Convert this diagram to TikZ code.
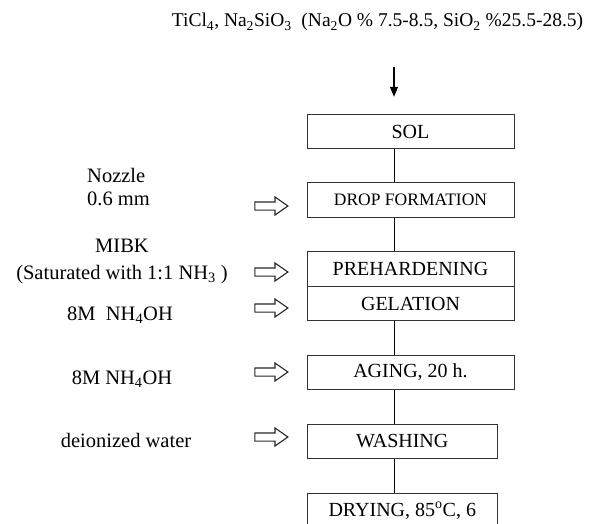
\documentclass[tikz,border=0pt]{standalone}
\usepackage{fontspec}
\setmainfont{Liberation Serif}
\usetikzlibrary{arrows.meta,shapes.arrows}

\tikzset{
  stepbox/.style={draw=black!80, line width=0.9pt, minimum height=34.5pt, inner sep=0pt, font=\fontsize{20}{24}\selectfont},
  feed/.style={single arrow, draw=black!85, line width=1.1pt, minimum height=33pt, minimum width=17pt,
    single arrow head extend=5pt, single arrow tip angle=70, inner sep=3.5pt},
  lbl/.style={font=\fontsize{20.5}{24}\selectfont, inner sep=0pt}
}

\begin{document}
\begin{tikzpicture}[x=1pt, y=-1pt]
	\useasboundingbox (0,0) rectangle (591,524);

	% starting materials
	\node[lbl, anchor=base, font=\fontsize{19.5}{24}\selectfont] (src) at (377.5,27)
		{TiCl\textsubscript{4}, Na\textsubscript{2}SiO\textsubscript{3}\ \ (Na\textsubscript{2}O \% 7.5-8.5, SiO\textsubscript{2} \%25.5-28.5)};
	\coordinate (spine) at (394,0);

	% process steps
	\node[stepbox, minimum width=207pt] (sol)   at (410.5,131.5) {SOL};
	\node[stepbox, minimum width=207pt, font=\fontsize{17.5}{20}\selectfont] (drop) at (410.5,200) {DROP FORMATION};
	\node[stepbox, minimum width=207pt] (preh)  at (410.5,269)   {PREHARDENING};
	\node[stepbox, minimum width=207pt] (gel)   at (410.5,303.5) {GELATION};
	\node[stepbox, minimum width=207pt] (age)   at (410.5,372.5) {AGING, 20 h.};
	\node[stepbox, minimum width=190.5pt] (wash) at (402.25,441.5) {WASHING};
	\node[stepbox, minimum width=190.5pt] (dry)  at (402.25,510.5) {DRYING, 85\textsuperscript{o}C, 6};

	\path [-{Triangle[length=10pt, width=8pt]}, line width=1.5pt, shorten <=36pt, shorten >=17pt]
		(src.south -| spine) edge (sol.north -| spine);
	\path [-, line width=0.8pt] (sol.south -| spine)  edge (drop.north -| spine);
	\path [-, line width=0.8pt] (drop.south -| spine) edge (preh.north -| spine);
	\path [-, line width=0.8pt] (gel.south -| spine)  edge (age.north -| spine);
	\path [-, line width=0.8pt] (age.south -| spine)  edge (wash.north -| spine);
	\path [-, line width=0.8pt] (wash.south -| spine) edge (dry.north -| spine);

	% additions
	\node[lbl, anchor=base west] (noz)  at (87,182)  {Nozzle};
	\node[lbl, anchor=base west] (noz2) at (87,205)  {0.6 mm};
	\node[lbl, anchor=base] (mibk) at (122,252) {MIBK};
	\node[lbl, anchor=base] (sat)  at (122,279) {(Saturated with 1:1 NH\textsubscript{3} )};
	\node[lbl, anchor=base] (nh1)  at (120,320) {8M\ \ NH\textsubscript{4}OH};
	\node[lbl, anchor=base] (nh2)  at (122,384) {8M NH\textsubscript{4}OH};
	\node[lbl, anchor=base] (dw)   at (126,447) {deionized water};

	\node[feed] (a1) at (268.5,206) {};
	\node[feed] (a2) at (268.5,272) {};
	\node[feed] (a3) at (268.5,308) {};
	\node[feed] (a4) at (268.5,372) {};
	\node[feed] (a5) at (268.5,437) {};
\end{tikzpicture}
\end{document}
